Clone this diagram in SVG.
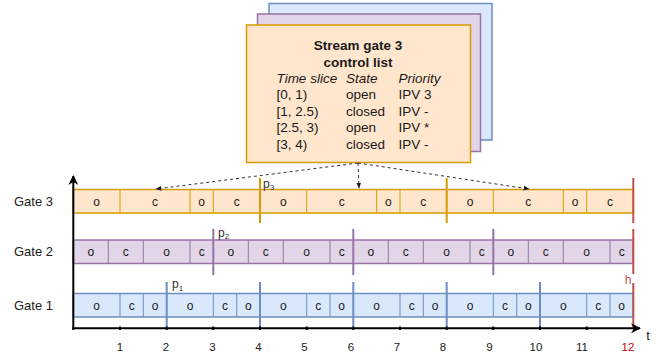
<svg xmlns="http://www.w3.org/2000/svg" width="660" height="360" viewBox="0 0 660 360">
<defs>
<style>
text{font-family:"Liberation Sans",Arial,sans-serif;fill:#1a1a1a}
.cell{font-size:12px;text-anchor:middle}
.gl{font-size:13px}
.num{font-size:11.5px;text-anchor:middle}
.bt{font-size:13.5px}
.lab{font-size:12px;fill:#333}
.sub{font-size:8px}
.r3{fill:#ffe6cc;stroke:#d79b00;stroke-width:1.5}
.r2{fill:#e1d5e7;stroke:#9673a6;stroke-width:1.5}
.r1{fill:#dae8fc;stroke:#6c8ebf;stroke-width:1.5}
.d3{stroke:#d79b00;stroke-width:1}
.d2{stroke:#9673a6;stroke-width:1}
.d1{stroke:#6c8ebf;stroke-width:1}
.k3{stroke:#d79b00;stroke-width:2}
.k2{stroke:#9673a6;stroke-width:2}
.k1{stroke:#6c8ebf;stroke-width:2}
.red{stroke:#b85450;stroke-width:2}
.dash{fill:none;stroke:#333;stroke-width:1;stroke-dasharray:3 3}
</style>
<marker id="ah" viewBox="0 0 10 10" refX="9" refY="5" markerWidth="6" markerHeight="6" orient="auto"><path d="M0,1 L10,5 L0,9 Z" fill="#1a1a1a"/></marker>
<marker id="ax" viewBox="0 0 10 10" refX="9" refY="5" markerWidth="5" markerHeight="5" orient="auto"><path d="M0,0 L10,5 L0,10 L3,5 Z" fill="#000"/></marker>
</defs>

<g id="control-list">
<rect x="269" y="3.5" width="223" height="136.5" fill="#dae8fc" stroke="#6c8ebf" stroke-width="1.5"/>
<rect x="257.5" y="14" width="223" height="137.5" fill="#e1d5e7" stroke="#9673a6" stroke-width="1.5"/>
<rect x="246.5" y="25" width="224" height="137.5" fill="#ffe6cc" stroke="#d79b00" stroke-width="1.5"/>
<text class="bt" x="358" y="50" text-anchor="middle" font-weight="bold">Stream gate 3</text>
<text class="bt" x="358" y="66.5" text-anchor="middle" font-weight="bold">control list</text>
<text class="bt" font-style="italic" x="276.5" y="82.5">Time slice</text>
<text class="bt" font-style="italic" x="346" y="82.5">State</text>
<text class="bt" font-style="italic" x="398.5" y="82.5">Priority</text>
<text class="bt" x="276.5" y="99">[0, 1)</text><text class="bt" x="346" y="99">open</text><text class="bt" x="398.5" y="99">IPV 3</text>
<text class="bt" x="276.5" y="115.5">[1, 2.5)</text><text class="bt" x="346" y="115.5">closed</text><text class="bt" x="398.5" y="115.5">IPV -</text>
<text class="bt" x="276.5" y="132">[2.5, 3)</text><text class="bt" x="346" y="132">open</text><text class="bt" x="398.5" y="132">IPV *</text>
<text class="bt" x="276.5" y="148.5">[3, 4)</text><text class="bt" x="346" y="148.5">closed</text><text class="bt" x="398.5" y="148.5">IPV -</text>
</g>

<g id="gate3">
<text class="gl" x="14" y="206">Gate 3</text>
<rect class="r3" x="73.3" y="189.5" width="560" height="23.5"/>
<path class="d3" d="M120,189.5V213M190,189.5V213M213.3,189.5V213M306.7,189.5V213M376.7,189.5V213M400,189.5V213M493.3,189.5V213M563.3,189.5V213M586.7,189.5V213"/>
<path class="k3" d="M260,178V223M446.7,178V223"/>
<g class="cell">
<text class="cell" x="96.7" y="205.5">o</text><text class="cell" x="155" y="205.5">c</text><text class="cell" x="201.7" y="205.5">o</text><text class="cell" x="236.7" y="205.5">c</text>
<text class="cell" x="283.3" y="205.5">o</text><text class="cell" x="341.7" y="205.5">c</text><text class="cell" x="388.3" y="205.5">o</text><text class="cell" x="423.3" y="205.5">c</text>
<text class="cell" x="470" y="205.5">o</text><text class="cell" x="528.3" y="205.5">c</text><text class="cell" x="575" y="205.5">o</text><text class="cell" x="610" y="205.5">c</text>
</g>
<text class="lab" x="263" y="187.5">p<tspan class="sub" dy="2.5">3</tspan></text>
</g>

<g id="gate2">
<text class="gl" x="14" y="256">Gate 2</text>
<rect class="r2" x="73.3" y="240" width="560" height="23.5"/>
<path class="d2" d="M108.3,240V263.5M143.3,240V263.5M190,240V263.5M248.3,240V263.5M283.3,240V263.5M330,240V263.5M388.3,240V263.5M423.3,240V263.5M470,240V263.5M528.3,240V263.5M563.3,240V263.5M610,240V263.5"/>
<path class="k2" d="M213.3,229V275M353.3,229V275M493.3,229V275"/>
<text class="cell" x="90.8" y="256">o</text><text class="cell" x="125.8" y="256">c</text><text class="cell" x="166.7" y="256">o</text><text class="cell" x="201.7" y="256">c</text>
<text class="cell" x="230.8" y="256">o</text><text class="cell" x="265.8" y="256">c</text><text class="cell" x="306.7" y="256">o</text><text class="cell" x="341.7" y="256">c</text>
<text class="cell" x="370.8" y="256">o</text><text class="cell" x="405.8" y="256">c</text><text class="cell" x="446.7" y="256">o</text><text class="cell" x="481.7" y="256">c</text>
<text class="cell" x="510.8" y="256">o</text><text class="cell" x="545.8" y="256">c</text><text class="cell" x="586.7" y="256">o</text><text class="cell" x="621.7" y="256">c</text>
<text class="lab" x="218" y="236.5">p<tspan class="sub" dy="2.5">2</tspan></text>
</g>

<g id="gate1">
<text class="gl" x="14" y="310">Gate 1</text>
<rect class="r1" x="73.3" y="293.5" width="560" height="23.5"/>
<path class="d1" d="M120,293.5V317M143.3,293.5V317M213.3,293.5V317M236.7,293.5V317M306.7,293.5V317M330,293.5V317M400,293.5V317M423.3,293.5V317M493.3,293.5V317M516.7,293.5V317M586.7,293.5V317M610,293.5V317"/>
<path class="k1" d="M166.7,282V329M260,282V329M353.3,282V329M446.7,282V329M540,282V329"/>
<text class="cell" x="96.7" y="309.5">o</text><text class="cell" x="131.7" y="309.5">c</text><text class="cell" x="155" y="309.5">o</text>
<text class="cell" x="190" y="309.5">o</text><text class="cell" x="225" y="309.5">c</text><text class="cell" x="248.3" y="309.5">o</text>
<text class="cell" x="283.3" y="309.5">o</text><text class="cell" x="318.3" y="309.5">c</text><text class="cell" x="341.7" y="309.5">o</text>
<text class="cell" x="376.7" y="309.5">o</text><text class="cell" x="411.7" y="309.5">c</text><text class="cell" x="435" y="309.5">o</text>
<text class="cell" x="470" y="309.5">o</text><text class="cell" x="505" y="309.5">c</text><text class="cell" x="528.3" y="309.5">o</text>
<text class="cell" x="563.3" y="309.5">o</text><text class="cell" x="598.3" y="309.5">c</text><text class="cell" x="621.7" y="309.5">o</text>
<text class="lab" x="172" y="288">p<tspan class="sub" dy="2.5">1</tspan></text>
</g>

<g id="horizon">
<path class="red" d="M633.3,178V223M633.3,229V274M633.3,283V328"/>
<text x="628" y="284" font-size="12" text-anchor="middle" style="fill:#b85450">h</text>
</g>

<g id="axes">
<path d="M73.3,330V176" stroke="#000" stroke-width="2" marker-end="url(#ax)"/>
<path d="M72.3,328.3H640" stroke="#000" stroke-width="2" marker-end="url(#ax)"/>
<path d="M120,326.5V330M166.7,326.5V330M213.3,326.5V330M260,326.5V330M306.7,326.5V330M353.3,326.5V330M400,326.5V330M446.7,326.5V330M493.3,326.5V330M540,326.5V330M586.7,326.5V330" stroke="#000" stroke-width="2"/>
<text x="648" y="340" font-size="13" text-anchor="middle">t</text>
<text class="num" x="120" y="351">1</text><text class="num" x="166" y="351">2</text><text class="num" x="212.5" y="351">3</text>
<text class="num" x="258.5" y="351">4</text><text class="num" x="304.5" y="351">5</text><text class="num" x="351" y="351">6</text>
<text class="num" x="397" y="351">7</text><text class="num" x="443" y="351">8</text><text class="num" x="489.5" y="351">9</text>
<text class="num" x="536" y="351">10</text><text class="num" x="582" y="351">11</text>
<text class="num" x="628" y="351" style="fill:#cc0000">12</text>
</g>

<g id="connectors">
<path class="dash" d="M358,163L156,189" marker-end="url(#ah)"/>
<path class="dash" d="M358,163L359,188" marker-end="url(#ah)"/>
<path class="dash" d="M358,163L529,189" marker-end="url(#ah)"/>
</g>
</svg>
